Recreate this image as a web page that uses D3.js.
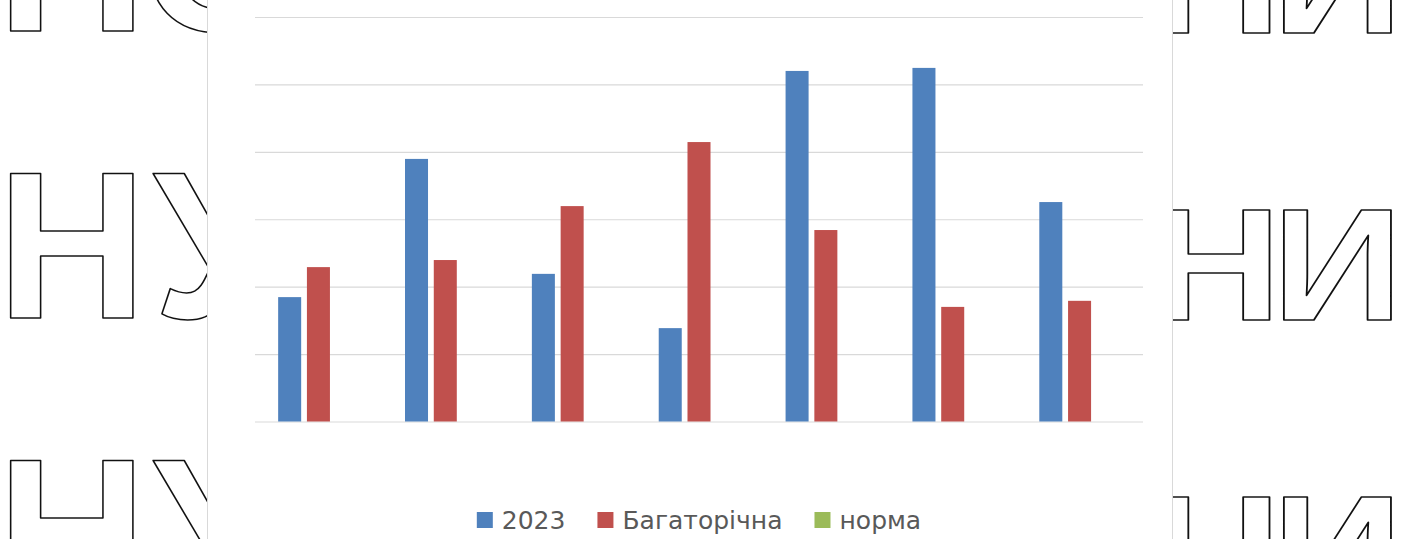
<!DOCTYPE html>
<html>
<head>
<meta charset="utf-8">
<script src="https://cdn.jsdelivr.net/npm/d3@7/dist/d3.min.js"></script>
<style>
    body { margin: 0; background: #fff; overflow: hidden; }
</style>
</head>
<body>
<div id="chart"></div>
<script>
// data (gridline step taken as 20)
var categories = ["1", "2", "3", "4", "5", "6", "7"];
var seriesNames = ["2023", "Багаторічна", "норма"];
var values2023 = [36.9, 77.9, 43.8, 27.7, 104.0, 104.9, 65.1];
var valuesLongTerm = [45.8, 47.9, 63.9, 82.9, 56.8, 34.0, 35.8];
var valuesNorm = [null, null, null, null, null, null, null];
var yTicks = [0, 20, 40, 60, 80, 100, 120];
var colors = ["#4f81bd", "#c0504d", "#9bbb59"];

// outline lettering behind the chart
var leftRows = ["НС", "НУ", "НУ"];
var rightRows = ["НИ", "НИ", "НИ"];

(function () {
    var W = 1409, H = 539;
    var plot = {left: 255, right: 1143, top: 17, bottom: 421.5};

    var svg = d3.select("#chart").append("svg")
        .attr("width", W)
        .attr("height", H);

    // background letters
    var bg = svg.append("g").attr("class", "letters");

    function drawLetters(rows, opt) {
        rows.forEach(function (word, r) {
            var base = opt.baseline + r * 287;
            word.split("").forEach(function (ch, i) {
                var lsb = (ch == "У" ? 0.01 : 0.073) * opt.size * opt.sx;
                bg.append("text")
                    .attr("transform", "translate(" + (opt.xs[i] - lsb) + "," + base + ") scale(" + opt.sx + ",1)")
                    .attr("font-family", "Liberation Sans, Arial, sans-serif")
                    .attr("font-weight", "bold")
                    .attr("font-size", opt.size)
                    .attr("fill", "none")
                    .attr("stroke", "#111")
                    .attr("stroke-width", 1.6)
                    .attr("stroke-linejoin", "round")
                    .text(ch);
            });
        });
    }

    drawLetters(leftRows, {baseline: 31, size: 210, sx: 0.99, xs: [12, 155]});
    drawLetters(rightRows, {baseline: 33, size: 159, sx: 1.15, xs: [1163, 1285]});

    // chart panel
    svg.append("rect")
        .attr("x", 207.5)
        .attr("y", -2)
        .attr("width", 965)
        .attr("height", H + 4)
        .attr("fill", "#fff")
        .attr("stroke", "#d9d9d9")
        .attr("stroke-width", 1);

    var x0 = d3.scaleBand()
        .domain(categories)
        .range([plot.left, plot.right])
        .paddingInner(0.365)
        .paddingOuter(0.1825);

    var x1 = d3.scaleBand()
        .domain(seriesNames)
        .range([0, x0.bandwidth()])
        .paddingInner(0.2);

    var y = d3.scaleLinear()
        .domain([0, 120])
        .range([plot.bottom, plot.top]);

    // gridlines
    var grid = svg.append("g")
        .attr("class", "grid")
        .attr("transform", "translate(" + plot.left + ",0)")
        .call(d3.axisLeft(y).tickValues(yTicks).tickSize(-(plot.right - plot.left)).tickFormat(""));
    grid.select(".domain").remove();
    grid.selectAll("line").attr("stroke", "#d9d9d9").attr("stroke-width", 1.2);

    // bars
    var series = [values2023, valuesLongTerm, valuesNorm];
    var rows = categories.map(function (c, i) {
        return seriesNames.map(function (s, j) {
            return {cat: c, name: s, value: series[j][i], color: colors[j]};
        });
    });

    svg.append("g").selectAll("g")
        .data(rows).enter().append("g")
        .attr("transform", function (d) { return "translate(" + x0(d[0].cat) + ",0)"; })
        .selectAll("rect")
        .data(function (d) { return d.filter(function (v) { return v.value != null; }); })
        .enter().append("rect")
        .attr("x", function (d) { return x1(d.name); })
        .attr("y", function (d) { return y(d.value); })
        .attr("width", x1.bandwidth())
        .attr("height", function (d) { return y(0) - y(d.value); })
        .attr("fill", function (d) { return d.color; });

    // legend
    var legend = svg.append("g").attr("class", "legend");
    var items = legend.selectAll("g")
        .data(seriesNames).enter().append("g");

    items.append("rect")
        .attr("x", 0)
        .attr("y", -8)
        .attr("width", 16)
        .attr("height", 16)
        .attr("fill", function (d, i) { return colors[i]; });

    items.append("text")
        .attr("x", 25)
        .attr("y", 0)
        .attr("dy", "0.36em")
        .attr("font-family", "DejaVu Sans, sans-serif")
        .attr("font-size", 25)
        .attr("fill", "#595959")
        .text(function (d) { return d; });

    var pos = 0, offsets = [];
    items.each(function () {
        offsets.push(pos);
        pos += 25 + d3.select(this).select("text").node().getComputedTextLength() + 32;
    });
    var total = pos - 32;
    var start = (plot.left + plot.right) / 2 - total / 2;
    items.attr("transform", function (d, i) { return "translate(" + (start + offsets[i]) + ",520)"; });
})();
</script>
</body>
</html>
